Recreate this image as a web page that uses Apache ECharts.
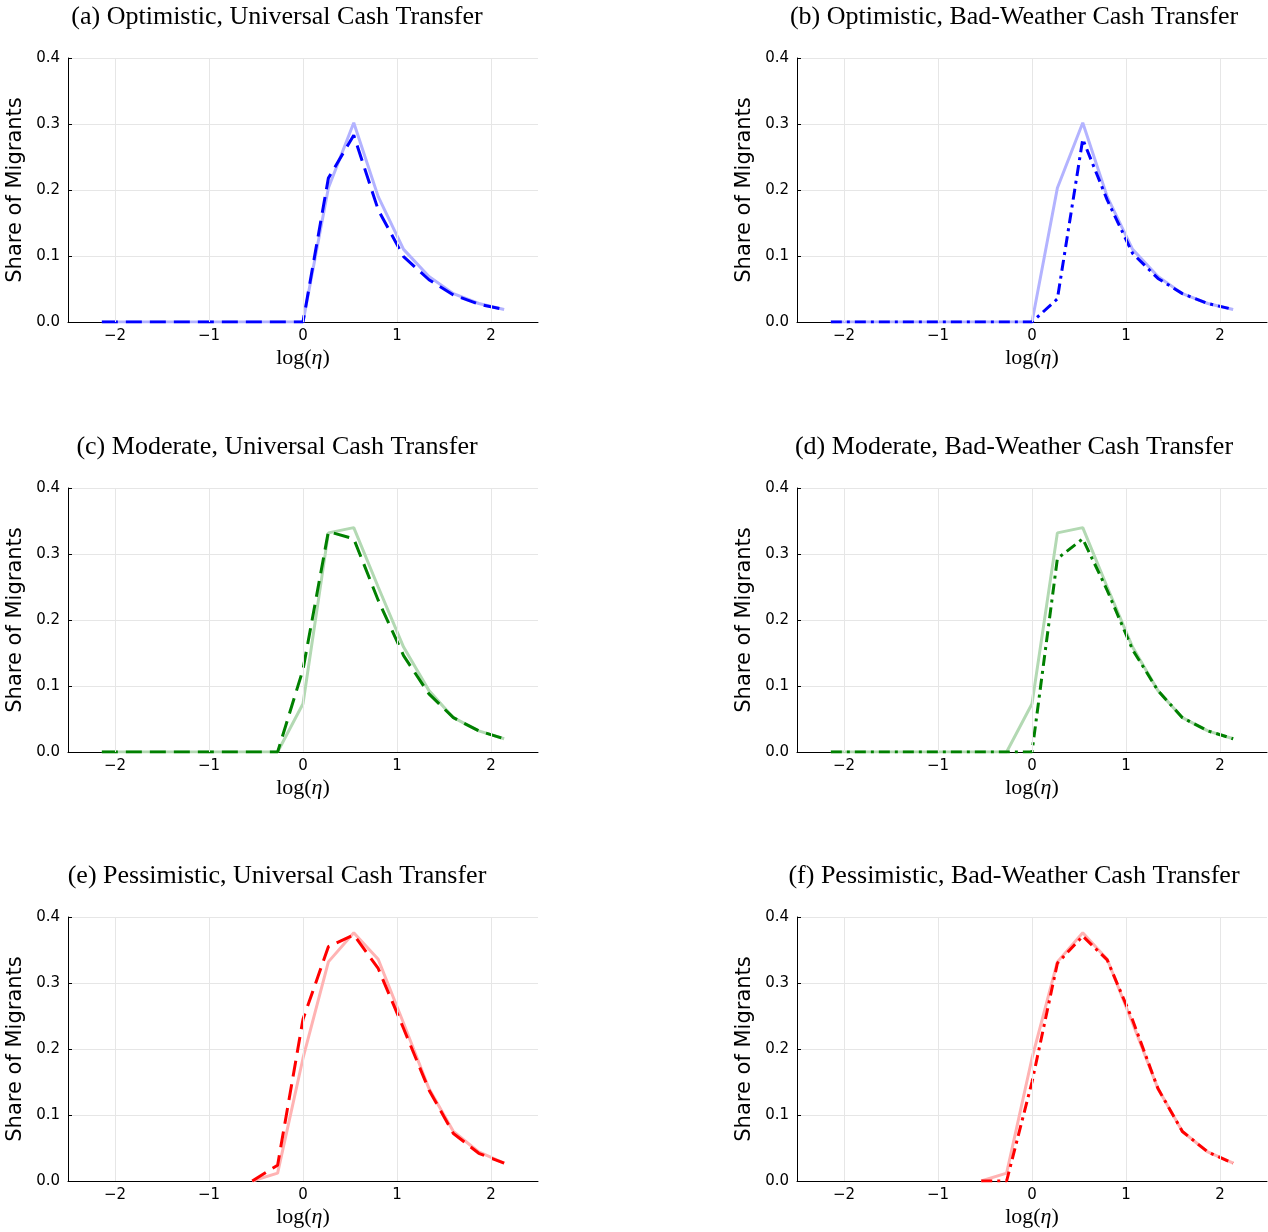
<!DOCTYPE html>
<html>
<head>
<meta charset="utf-8">
<script src="https://cdn.jsdelivr.net/npm/echarts@6/dist/echarts.min.js"></script>
<style>
  body { margin: 0; background: #fff; }
  #main { width: 1268px; height: 1232px; }
</style>
</head>
<body>
<div id="main"></div>
<script>
// log(eta) grid
const xs = [-2.14, -1.87, -1.6, -1.34, -1.07, -0.8, -0.54, -0.27, 0, 0.27, 0.54, 0.8, 1.07, 1.34, 1.6, 1.87, 2.14];

// baseline (light solid) and policy (dashed / dash-dot) shares
const optBase = [0, 0, 0, 0, 0, 0, 0, 0, 0, 0.203, 0.302, 0.19, 0.11, 0.069, 0.043, 0.028, 0.019];
const optUniv = [0, 0, 0, 0, 0, 0, 0, 0, 0, 0.218, 0.283, 0.17, 0.099, 0.064, 0.041, 0.027, 0.019];
const optBad  = [0, 0, 0, 0, 0, 0, 0, 0, 0, 0.035, 0.277, 0.185, 0.104, 0.066, 0.043, 0.028, 0.019];

const modBase = [0, 0, 0, 0, 0, 0, 0, 0, 0.073, 0.332, 0.34, 0.25, 0.159, 0.093, 0.052, 0.032, 0.02];
const modUniv = [0, 0, 0, 0, 0, 0, 0, 0, 0.125, 0.334, 0.323, 0.23, 0.146, 0.088, 0.052, 0.032, 0.02];
const modBad  = [0, 0, 0, 0, 0, 0, 0, 0, 0, 0.293, 0.323, 0.245, 0.155, 0.093, 0.052, 0.032, 0.02];

const pesBase = [null, null, null, null, null, null, 0, 0.012, 0.186, 0.332, 0.376, 0.336, 0.239, 0.14, 0.075, 0.044, 0.027];
const pesUniv = [null, null, null, null, null, null, 0, 0.024, 0.245, 0.355, 0.373, 0.322, 0.231, 0.138, 0.072, 0.042, 0.027];
const pesBad  = [null, null, null, null, null, null, 0, 0, 0.15, 0.33, 0.371, 0.335, 0.244, 0.14, 0.075, 0.044, 0.027];

const titles = [
  '(a) Optimistic, Universal Cash Transfer',
  '(b) Optimistic, Bad-Weather Cash Transfer',
  '(c) Moderate, Universal Cash Transfer',
  '(d) Moderate, Bad-Weather Cash Transfer',
  '(e) Pessimistic, Universal Cash Transfer',
  '(f) Pessimistic, Bad-Weather Cash Transfer'
];
const xTicks = [-2, -1, 0, 1, 2];

const DASH = [16, 8];
const DASHDOT = [11, 5, 3, 5];

const panels = [
  { base: optBase, alt: optUniv, color: '#0000ff', light: '#b3b3ff', dash: DASH },
  { base: optBase, alt: optBad,  color: '#0000ff', light: '#b3b3ff', dash: DASHDOT },
  { base: modBase, alt: modUniv, color: '#008000', light: '#b3d9b3', dash: DASH },
  { base: modBase, alt: modBad,  color: '#008000', light: '#b3d9b3', dash: DASHDOT },
  { base: pesBase, alt: pesUniv, color: '#ff0000', light: '#ffb3b3', dash: DASH },
  { base: pesBase, alt: pesBad,  color: '#ff0000', light: '#ffb3b3', dash: DASHDOT }
];

const lefts = [68, 797];
const tops = [58, 488, 917];
const W = 470, H = 264;

function pts(vals) {
  return xs.map((x, i) => [x, vals[i]]).filter(p => p[1] !== null);
}

const grid = [], xAxis = [], yAxis = [], series = [], title = [];

panels.forEach((p, i) => {
  const col = i % 2, row = Math.floor(i / 2);
  grid.push({ left: lefts[col], top: tops[row], width: W, height: H, outerBoundsMode: 'none', containLabel: false });

  title.push({
    text: titles[i],
    left: lefts[col] + (col === 0 ? 204 : 212),
    top: tops[row] - 59,
    textAlign: 'center',
    textStyle: { fontFamily: 'Liberation Serif', fontSize: 26, fontWeight: 'normal', color: '#000' }
  });

  xAxis.push({
    type: 'value', gridIndex: i, min: -2.5, max: 2.5,
    name: '{a|log(}{b|η}{a|)}',
    nameLocation: 'middle', nameGap: 25,
    nameTextStyle: {
      rich: {
        a: { fontFamily: 'Liberation Serif', fontSize: 22, color: '#000' },
        b: { fontFamily: 'Liberation Serif', fontStyle: 'italic', fontSize: 22, color: '#000' }
      }
    },
    axisLine: { show: true, onZero: false, lineStyle: { color: '#000', width: 1 } },
    axisTick: { show: true, inside: true, length: 4, customValues: xTicks, lineStyle: { color: '#000' } },
    axisLabel: {
      customValues: xTicks, margin: 7, color: '#000', fontFamily: 'DejaVu Sans', fontSize: 15,
      formatter: v => String(v).replace('-', '\u2212')
    },
    splitLine: { show: false }
  });

  yAxis.push({
    type: 'value', gridIndex: i, min: 0, max: 0.4, interval: 0.1,
    name: 'Share of Migrants',
    nameLocation: 'middle', nameGap: 42,
    nameTextStyle: { fontFamily: 'DejaVu Sans', fontSize: 21, color: '#000' },
    axisLine: { show: true, onZero: false, lineStyle: { color: '#000', width: 1 } },
    axisTick: { show: true, inside: true, length: 4, lineStyle: { color: '#000' } },
    axisLabel: { margin: 8, color: '#000', fontFamily: 'DejaVu Sans', fontSize: 15, formatter: v => v.toFixed(1) },
    splitLine: { show: true, lineStyle: { color: '#e6e6e6', width: 1 } }
  });

  // vertical grid lines at the x ticks
  series.push({
    type: 'line', xAxisIndex: i, yAxisIndex: i, data: [], silent: true,
    markLine: {
      symbol: 'none', silent: true, label: { show: false },
      lineStyle: { color: '#e6e6e6', width: 1, type: 'solid' },
      data: xTicks.map(t => ({ xAxis: t }))
    }
  });

  series.push({
    type: 'line', xAxisIndex: i, yAxisIndex: i, data: pts(p.base),
    showSymbol: false, silent: true, z: 3,
    lineStyle: { color: p.light, width: 3 }
  });
  series.push({
    type: 'line', xAxisIndex: i, yAxisIndex: i, data: pts(p.alt),
    showSymbol: false, silent: true, z: 4,
    lineStyle: { color: p.color, width: 3, type: p.dash }
  });
});

const chart = echarts.init(document.getElementById('main'), null, { renderer: 'canvas' });
chart.setOption({
  backgroundColor: '#fff',
  animation: false,
  title, grid, xAxis, yAxis, series
});
</script>
</body>
</html>
